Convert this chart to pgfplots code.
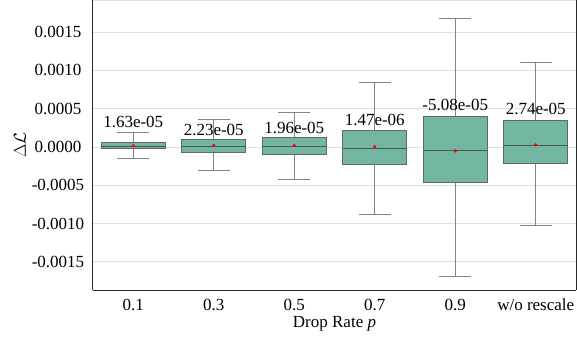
\documentclass[border=0pt]{standalone}
\usepackage{fontspec}
\setmainfont{Liberation Serif}
\usepackage{pgfplots}
\pgfplotsset{compat=1.18}
\usepgfplotslibrary{statistics}
\definecolor{boxfill}{RGB}{114,182,161}
\definecolor{boxedge}{RGB}{92,108,100}
\definecolor{whisk}{RGB}{130,130,130}
\definecolor{gridc}{RGB}{222,222,222}
\definecolor{spine}{RGB}{40,40,40}
% all values below are Delta L in units of 1e-4
\begin{document}
\begin{tikzpicture}[font=\rmfamily\fontsize{17}{20}\selectfont]
\begin{axis}[
  scale only axis,
  width=483pt, height=290pt,
  xmin=-0.5, xmax=5.5,
  ymin=-18.67, ymax=19.19,
  axis x line*=bottom, axis y line*=box,
  axis line style={spine, line width=1pt},
  font=\rmfamily\fontsize{17}{20}\selectfont,
  xtick={0,1,2,3,4,5},
  xticklabels={0.1,0.3,0.5,0.7,0.9,w/o rescale},
  ytick={-15,-10,-5,0,5,10,15},
  yticklabels={-0.0015,-0.0010,-0.0005,0.0000,0.0005,0.0010,0.0015},
  scaled y ticks=false,
  major tick length=0pt,
  ymajorgrids,
  grid style={gridc, line width=0.9pt},
  yticklabel style={anchor=center, xshift=-35pt},
  xticklabel style={anchor=base, yshift=-20pt},
  xlabel={Drop Rate \textit{p}},
  ylabel={$\Delta\mathcal{L}$},
  every axis x label/.style={at={(rel axis cs:0.5,0)}, anchor=base, yshift=-37pt},
  every axis y label/.style={at={(rel axis cs:0,0.5)}, xshift=-73pt, anchor=center, rotate=90},
  boxplot/draw direction=y,
  boxplot/box extend=0.8,
  boxplot/whisker extend=0.4,
  boxplot/every box/.style={draw=boxedge, fill=boxfill, line width=1pt},
  boxplot/every whisker/.style={draw=whisk, line width=1pt},
  boxplot/every median/.style={draw=boxedge!80!black, line width=1pt},
  clip=false,
]
\draw[gridc, line width=0.9pt] (rel axis cs:0,1) -- (rel axis cs:1,1);
\addplot[boxplot prepared={draw position=0, lower whisker=-1.49, lower quartile=-0.26, median=0.08, upper quartile=0.65, upper whisker=1.90}] coordinates {};
\addplot[boxplot prepared={draw position=1, lower whisker=-3.13, lower quartile=-0.74, median=0.13, upper quartile=1.04, upper whisker=3.56}] coordinates {};
\addplot[boxplot prepared={draw position=2, lower whisker=-4.27, lower quartile=-1.04, median=0.04, upper quartile=1.21, upper whisker=4.44}] coordinates {};
\addplot[boxplot prepared={draw position=3, lower whisker=-8.79, lower quartile=-2.26, median=-0.17, upper quartile=2.18, upper whisker=8.45}] coordinates {};
\addplot[boxplot prepared={draw position=4, lower whisker=-16.97, lower quartile=-4.61, median=-0.43, upper quartile=4.00, upper whisker=16.71}] coordinates {};
\addplot[boxplot prepared={draw position=5, lower whisker=-10.31, lower quartile=-2.13, median=0.22, upper quartile=3.49, upper whisker=11.06}] coordinates {};
\addplot[only marks, mark=*, mark size=1.4pt, color=red] coordinates {
(0,0.163) (1,0.223) (2,0.196) (3,0.0147) (4,-0.508) (5,0.274)};
\node[anchor=base] at (axis cs:0,2.48) {1.63e-05};
\node[anchor=base] at (axis cs:1,1.47) {2.23e-05};
\node[anchor=base] at (axis cs:2,1.74) {1.96e-05};
\node[anchor=base] at (axis cs:3,2.78) {1.47e-06};
\node[anchor=base] at (axis cs:4,4.74) {-5.08e-05};
\node[anchor=base] at (axis cs:5,4.22) {2.74e-05};
\end{axis}
\pgfresetboundingbox
\path[use as bounding box] (-93pt,-51pt) rectangle (484pt,290pt);
\end{tikzpicture}
\end{document}
